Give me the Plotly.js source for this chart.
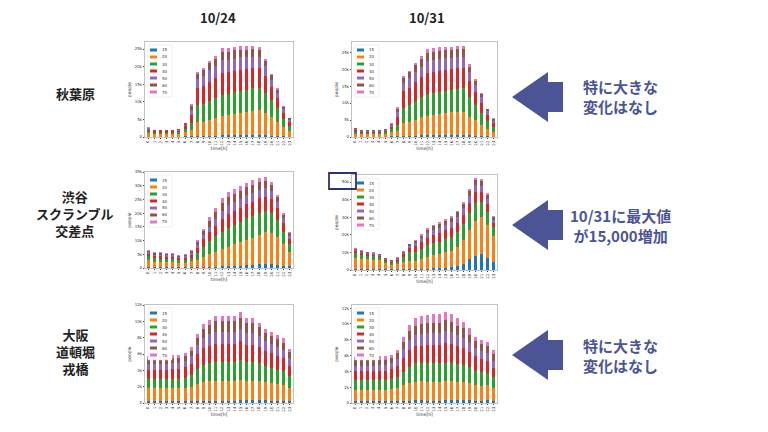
<!DOCTYPE html>
<html><head><meta charset="utf-8">
<script src="https://cdn.plot.ly/plotly-3.0.1.min.js"></script>
<style>body{margin:0;background:#fff}#c{width:768px;height:432px}</style>
</head><body><div id="c"></div>
<script>
const hours = Array.from({length:24},(_,i)=>String(i));
const ages = ['15','20','30','40','50','60','70'];
const colors = ['#1f77b4','#ff7f0e','#2ca02c','#d62728','#9467bd','#8c564b','#e377c2'];

// 秋葉原 10/24
const akb1024_15=[100,80,80,80,80,90,150,200,300,300,350,400,450,450,500,500,550,550,550,500,300,200,150,100];
const akb1024_20=[900,700,700,700,700,800,1300,1800,3900,4000,4500,5000,5500,5700,6000,6200,6500,6800,7000,6300,5400,4200,2700,1700];
const akb1024_30=[600,450,450,450,450,500,900,2000,4800,5000,5300,5600,6000,6200,6300,6400,6400,6500,6500,5800,4700,3800,2300,1400];
const akb1024_40=[500,350,350,350,350,400,700,2200,5000,5200,5500,5800,6200,6000,6000,6000,5800,5700,5500,4800,3800,2900,1700,1000];
const akb1024_50=[350,250,250,250,250,300,450,1500,2500,2700,3300,3300,3600,3500,3500,3500,3400,3300,3100,2700,2100,1500,1000,700];
const akb1024_60=[250,200,200,200,200,250,400,1200,1500,1800,2000,2100,2300,2300,2300,2200,2200,2200,2000,1600,1300,900,700,450];
const akb1024_70=[100,70,70,70,70,60,100,400,500,500,550,800,1150,1150,1100,1000,950,950,850,600,400,300,250,150];
// 秋葉原 10/31
const akb1031_15=[100,80,80,80,80,90,150,200,300,350,400,450,500,500,550,550,550,550,550,450,350,250,150,100];
const akb1031_20=[900,700,700,700,700,800,1300,1500,3700,4000,4700,5300,5800,6000,6200,6400,6700,6800,6800,5500,4600,3400,2300,1500];
const akb1031_30=[600,450,450,450,450,500,900,1800,4500,5000,5500,6000,6300,6500,6500,6500,6500,6700,7000,5800,4600,3500,2400,1400];
const akb1031_40=[500,350,350,350,350,400,700,2300,5000,5200,5500,5800,6300,6300,6300,6300,6200,6200,6000,4700,3800,3000,1700,1000];
const akb1031_50=[350,250,250,250,250,300,450,1500,2500,2700,3000,3200,3500,3500,3500,3500,3400,3400,3300,2600,2000,1600,1000,800];
const akb1031_60=[250,200,200,200,200,250,400,1100,1500,1800,2000,2200,2400,2400,2400,2300,2300,2300,2200,1700,1300,900,600,500];
const akb1031_70=[100,70,70,70,70,60,100,400,500,500,600,800,1100,1100,1100,1000,1000,950,900,700,400,300,250,200];
// 渋谷 10/24
const shb1024_15=[300,250,250,250,250,200,200,250,300,400,400,500,600,700,800,900,1100,1200,1400,1500,1500,1200,900,600];
const shb1024_20=[2700,2050,1950,1850,1850,1600,1700,2200,2700,3600,4600,5300,6400,7100,7800,8400,9200,9800,10800,11500,11400,10000,7700,5100];
const shb1024_30=[1300,1200,1200,1100,1100,1000,1100,1300,2500,3700,4800,5700,6300,6900,7200,7500,7800,8000,8000,7800,7300,6300,4600,3000];
const shb1024_40=[900,900,900,900,900,800,800,1100,1900,2700,3200,3900,4600,4900,5000,5000,5200,5200,5200,5200,4800,4200,3300,2000];
const shb1024_50=[500,500,500,500,500,450,450,600,1000,1500,2100,2600,3000,3200,3300,3300,3300,3300,3200,3200,2900,2500,1800,1100];
const shb1024_60=[500,500,500,500,500,450,500,750,1200,1600,2200,2500,2900,3000,3000,2900,2900,2900,2800,2700,2300,1600,1200,800];
const shb1024_70=[300,400,400,400,400,300,350,500,700,800,1200,1300,1700,1900,1800,1800,1500,1600,1400,1400,1000,700,500,400];
// 渋谷 10/31
const shb1031_15=[800,700,700,600,600,500,400,400,500,500,600,700,800,900,1000,1200,1500,2000,3500,6000,8000,9000,7000,4500];
const shb1031_20=[6200,5800,5300,5200,4900,3300,2600,2800,4300,4500,4400,5300,6700,7600,8000,8800,9500,11000,13500,17000,20000,21000,18500,15000];
const shb1031_30=[2500,2200,2200,2000,1700,1200,1000,1600,2700,5200,5500,6000,6500,7000,7200,7500,7800,8500,9000,9500,10000,8500,7500,5000];
const shb1031_40=[1300,1100,1000,1000,900,700,700,1100,1400,2300,3000,3700,4300,4600,4800,5000,5200,5300,5500,5800,6200,5800,4500,2500];
const shb1031_50=[800,700,650,600,550,450,450,600,800,1300,1800,2300,2700,2900,3100,3200,3400,3500,3700,3900,3900,3700,2800,1700];
const shb1031_60=[500,400,400,400,350,450,450,500,600,800,1300,1600,2000,2100,2300,2300,2400,2400,2600,2800,2900,2800,2200,1300];
const shb1031_70=[200,200,200,200,200,200,200,300,300,400,500,600,700,700,700,800,800,900,1000,1100,1200,1200,1000,600];
// 道頓堀 10/24
const osk1024_15=[200,200,200,200,200,200,200,200,250,300,300,300,300,300,300,350,350,350,350,350,300,300,300,250];
const osk1024_20=[1600,1600,1600,1600,1600,1600,1650,1800,2100,2300,2400,2400,2400,2400,2400,2500,2400,2400,2300,2200,2100,2000,1900,1600];
const osk1024_30=[1200,1200,1200,1200,1200,1200,1250,1400,1800,2100,2200,2300,2300,2300,2300,2400,2300,2300,2200,2000,1900,1800,1700,1400];
const osk1024_40=[1100,1100,1100,1100,1200,1200,1250,1400,1800,2000,2100,2200,2200,2200,2200,2300,2100,2100,2000,1800,1800,1700,1600,1300];
const osk1024_50=[700,700,700,700,700,700,750,900,1100,1300,1400,1500,1500,1500,1500,1500,1400,1400,1300,1200,1100,1100,1000,900];
const osk1024_60=[600,600,600,600,600,600,600,700,900,1100,1200,1300,1300,1300,1300,1300,1200,1200,1100,1000,1000,900,900,800];
const osk1024_70=[400,400,400,400,400,400,400,400,550,600,600,700,700,700,700,750,650,650,550,550,500,500,500,400];
// 道頓堀 10/31
const osk1031_15=[200,200,200,200,200,200,200,200,250,300,400,350,300,300,300,350,350,350,350,350,300,300,350,250];
const osk1031_20=[1500,1500,1500,1500,1500,1500,1550,1700,2000,2200,2300,2400,2400,2400,2400,2400,2400,2300,2300,2200,2000,1900,1900,1700];
const osk1031_30=[1200,1200,1200,1200,1200,1200,1250,1400,1700,2100,2300,2300,2300,2300,2300,2300,2300,2300,2200,2000,1800,1700,1600,1300];
const osk1031_40=[1100,1100,1100,1100,1200,1200,1250,1400,1800,2100,2200,2200,2300,2300,2300,2500,2400,2200,2100,1900,1800,1700,1500,1200];
const osk1031_50=[700,700,700,700,700,700,750,900,1100,1300,1400,1500,1500,1500,1500,1600,1500,1400,1300,1200,1000,1000,1000,900];
const osk1031_60=[700,700,700,700,700,700,700,700,900,1100,1200,1300,1300,1300,1300,1300,1300,1200,1200,1000,1000,900,900,800];
const osk1031_70=[400,400,400,400,400,500,400,400,650,800,900,950,1000,1100,1100,1050,1050,950,850,850,500,500,450,550];

const panels = [
 {d:[akb1024_15,akb1024_20,akb1024_30,akb1024_40,akb1024_50,akb1024_60,akb1024_70], x:[145,293], y:[42,137], ymax:27000, dt:5000},
 {d:[akb1031_15,akb1031_20,akb1031_30,akb1031_40,akb1031_50,akb1031_60,akb1031_70], x:[352,497], y:[42,137], ymax:28000, dt:5000},
 {d:[shb1024_15,shb1024_20,shb1024_30,shb1024_40,shb1024_50,shb1024_60,shb1024_70], x:[145,293], y:[172,268], ymax:35000, dt:5000},
 {d:[shb1031_15,shb1031_20,shb1031_30,shb1031_40,shb1031_50,shb1031_60,shb1031_70], x:[352,497], y:[175,270], ymax:54000, dt:10000},
 {d:[osk1024_15,osk1024_20,osk1024_30,osk1024_40,osk1024_50,osk1024_60,osk1024_70], x:[145,293], y:[305,403], ymax:12000, dt:2000},
 {d:[osk1031_15,osk1031_20,osk1031_30,osk1031_40,osk1031_50,osk1031_60,osk1031_70], x:[352,497], y:[305,403], ymax:12400, dt:2000},
];
const W=768,H=432;
const xx=v=>v/W, yy=v=>1-v/H;
const traces=[]; const layout={width:W,height:H,margin:{l:0,r:0,t:0,b:0},barmode:'stack',showlegend:false,paper_bgcolor:'#fff',plot_bgcolor:'#fff',
 font:{family:'DejaVu Sans',size:4,color:'#333'},shapes:[],annotations:[]};
panels.forEach((p,i)=>{
  const n=i===0?'':String(i+1);
  p.d.forEach((arr,k)=>traces.push({type:'bar',x:hours,y:arr,name:ages[k],marker:{color:colors[k],line:{width:0}},xaxis:'x'+n,yaxis:'y'+n,width:0.5}));
  layout['xaxis'+n]={domain:[xx(p.x[0]),xx(p.x[1])],anchor:'y'+n,type:'category',dtick:1,tickangle:-90,tickfont:{size:4},showline:true,mirror:true,linecolor:'#999',linewidth:0.6,ticks:'outside',ticklen:1.5,
    title:{text:'time[h]',font:{size:4.5},standoff:1}};
  layout['yaxis'+n]={domain:[yy(p.y[1]),yy(p.y[0])],anchor:'x'+n,range:[0,p.ymax],dtick:p.dt,tickfont:{size:4},showline:true,mirror:true,linecolor:'#999',linewidth:0.6,showgrid:false,zeroline:false,ticks:'outside',ticklen:1.5,
    title:{text:'people',font:{size:4.5},standoff:2}};
  // legend box
  const lx=p.x[0]+3, ly=p.y[0]+3;
  layout.shapes.push({type:'rect',xref:'paper',yref:'paper',x0:xx(lx),x1:xx(lx+24),y0:yy(ly+52),y1:yy(ly),fillcolor:'rgba(255,255,255,0.9)',line:{color:'#ddd',width:0.5}});
  ages.forEach((a,k)=>{
    const cy=ly+5+k*7;
    layout.shapes.push({type:'rect',xref:'paper',yref:'paper',x0:xx(lx+2),x1:xx(lx+9),y0:yy(cy+1.5),y1:yy(cy-1.5),fillcolor:colors[k],line:{width:0}});
    layout.annotations.push({xref:'paper',yref:'paper',x:xx(lx+12),y:yy(cy),xanchor:'left',yanchor:'middle',text:a,showarrow:false,font:{size:4,color:'#333'}});
  });
});
const navy='#4b5596';
const A=(x,y,t,o)=>layout.annotations.push(Object.assign({xref:'paper',yref:'paper',x:xx(x),y:yy(y),xanchor:'center',yanchor:'middle',text:t,showarrow:false,font:{family:'Noto Sans CJK JP',size:13,color:'#222'}},o||{}));
A(218,18,'<b>10/24</b>'); A(427,18,'<b>10/31</b>');
A(75,93,'<b>秋葉原</b>'); A(75,213,'<b>渋谷<br>スクランブル<br>交差点</b>'); A(75,351,'<b>大阪<br>道頓堀<br>戎橋</b>');
const msgs=[[97,'特に大きな<br>変化はなし'],[225,'10/31に最大値<br>が15,000増加'],[355,'特に大きな<br>変化はなし']];
msgs.forEach(([cy,t])=>{
  A(620,cy,'<b>'+t+'</b>',{font:{family:'Noto Sans CJK JP',size:15,color:navy}});
  layout.shapes.push({type:'path',xref:'paper',yref:'paper',fillcolor:navy,line:{width:0},
    path:`M${xx(512)},${yy(cy)} L${xx(548)},${yy(cy-25)} L${xx(548)},${yy(cy-15)} L${xx(563)},${yy(cy-15)} L${xx(563)},${yy(cy+15)} L${xx(548)},${yy(cy+15)} L${xx(548)},${yy(cy+25)} Z`});
});
layout.shapes.push({type:'rect',xref:'paper',yref:'paper',x0:xx(329),x1:xx(356),y0:yy(189),y1:yy(173),line:{color:'#2e3470',width:1.8}});
Plotly.newPlot('c',traces,layout,{displayModeBar:false,staticPlot:true});
</script></body></html>
